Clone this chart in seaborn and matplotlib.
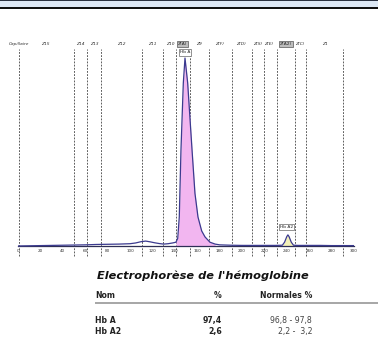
"""
Capillary electrophoresis trace of haemoglobin (Hb A / Hb A2) with result table.
"""
import matplotlib
matplotlib.use('Agg')
import matplotlib.pyplot as plt
import seaborn as sns
from matplotlib.patches import Rectangle

# ---- trace (x = migration position, y = % of peak height)
curve_x = [0, 10, 20, 30, 40, 50, 60, 70, 80, 90, 100, 105, 110, 114, 118, 122,
           126, 130, 134, 138, 141, 142.6, 144, 145.5, 147.6, 149.1, 151.5, 155.4,
           158, 160.7, 164, 167, 171.4, 176, 180, 190, 200, 210, 220, 230, 236,
           238, 240, 241, 242, 244, 246, 250, 260, 270, 280, 290, 300]
curve_y = [0.0, 0.1, 0.2, 0.3, 0.4, 0.5, 0.6, 0.8, 0.9, 1.0, 1.2, 1.6, 2.3, 2.6,
           2.2, 1.7, 1.3, 1.0, 1.2, 1.6, 2.0, 4.0, 15.4, 51.0, 86.7, 100.0, 86.7,
           51.0, 28.0, 15.4, 8.0, 4.8, 2.0, 1.0, 0.6, 0.4, 0.3, 0.3, 0.3, 0.3, 0.4,
           2.0, 5.0, 5.9, 5.0, 2.0, 0.4, 0.3, 0.3, 0.3, 0.2, 0.2, 0.2]

hba_range = (141, 178)
hba2_range = (236, 246)

zone_bounds = [1, 50, 61.6, 73.8, 111, 129.5, 141, 153.6, 170.5, 191, 208.5,
               219.6, 231, 247, 257.5, 290.6]
zone_names = ['Capillaire', 'Z15', 'Z14', 'Z13', 'Z12', 'Z11', 'Z10', 'Z(A)', 'Z9',
              'Z(F)', 'Z(D)', 'Z(S)', 'Z(E)', 'Z(A2)', 'Z(C)', 'Z1']
zone_pos = [1, 24, 55.4, 68, 92.6, 120, 135.7, 147, 162, 180, 198.8, 214, 224,
            239, 252, 274]
boxed_zones = ['Z(A)', 'Z(A2)']

peak_names = ['Hb A', 'Hb A2']
peak_pos = [149, 240]
peak_label_y = [103, 10]

x_ticks = list(range(0, 301, 20))

# ---- result table
title = "Electrophorèse de l'hémoglobine"
col_headers = ['Nom', '%', 'Normales %']
row_names = ['Hb A', 'Hb A2']
row_pct = ['97,4', '2,6']
row_norm = ['96,8 - 97,8', '2,2 -  3,2']

sns.set_style('white')
plt.rcParams['font.family'] = ['DejaVu Sans']

W, H = 378, 364
fig = plt.figure(figsize=(W / 100, H / 100), dpi=100)

# header band at the top of the page
fig.patches.append(Rectangle((0, 1 - 7.5 / H), 1, 7.5 / H, transform=fig.transFigure,
                             facecolor='#dde8f5', edgecolor='none'))
fig.patches.append(Rectangle((0, 1 - 1.2 / H), 1, 1.2 / H, transform=fig.transFigure,
                             facecolor='#2a3140', edgecolor='none'))
fig.patches.append(Rectangle((0, 1 - 9.2 / H), 1, 1.8 / H, transform=fig.transFigure,
                             facecolor='#111111', edgecolor='none'))

ax = fig.add_axes([18 / W, (H - 258) / H, 336 / W, 218 / H])
ax.set_xlim(0, 300)
ax.set_ylim(-6.4, 109.6)

ax.vlines(zone_bounds, -5.3, 104.8, colors='#444444', linestyles=(0, (2.2, 1.6)),
          linewidth=0.6, zorder=1)

ax.fill_between(curve_x, curve_y, 0,
                where=[hba_range[0] <= v <= hba_range[1] for v in curve_x],
                color='#f2b6f0', linewidth=0, zorder=2)
ax.fill_between(curve_x, curve_y, 0,
                where=[hba2_range[0] <= v <= hba2_range[1] for v in curve_x],
                color='#f3f1b8', linewidth=0, zorder=2)
sns.lineplot(x=curve_x, y=curve_y, ax=ax, color='#3b3a8f', linewidth=0.9, zorder=3)

for name, xpos in zip(zone_names, zone_pos):
    if name in boxed_zones:
        ax.text(xpos, 107.6, name, fontsize=3.2, ha='center', va='center', color='#222',
                bbox=dict(boxstyle='square,pad=0.25', facecolor='#bdbdbd',
                          edgecolor='#555555', linewidth=0.5))
    else:
        ax.text(xpos, 107.6, name, fontsize=3.2, ha='center', va='center',
                color='#333333', style='italic')

for name, xpos, ypos in zip(peak_names, peak_pos, peak_label_y):
    ax.text(xpos, ypos, name, fontsize=3.2, ha='center', va='center', color='#222',
            bbox=dict(boxstyle='square,pad=0.25', facecolor='white',
                      edgecolor='#666666', linewidth=0.5), zorder=4)

for side in ['top', 'left', 'right']:
    ax.spines[side].set_visible(False)
ax.spines['bottom'].set_position(('data', 0))
ax.spines['bottom'].set_color('#2e2e55')
ax.spines['bottom'].set_linewidth(0.9)
ax.set_yticks([])
ax.set_xticks(x_ticks)
ax.tick_params(axis='x', direction='inout', length=2.5, width=0.5, labelsize=3,
               pad=1, colors='#333333')
ax.set_xlabel('')
ax.set_ylabel('')
ax.patch.set_alpha(0)


def fy(py):
    return 1 - py / H


fig.text(203 / W, fy(279), title, fontsize=8.2, fontweight='bold', style='italic',
         ha='center', va='baseline', color='#111111')

fig.text(95 / W, fy(297.5), col_headers[0], fontsize=5.6, fontweight='bold',
         ha='left', va='baseline', color='#222222')
fig.text(222 / W, fy(297.5), col_headers[1], fontsize=5.6, fontweight='bold',
         ha='right', va='baseline', color='#222222')
fig.text(312 / W, fy(297.5), col_headers[2], fontsize=5.6, fontweight='bold',
         ha='right', va='baseline', color='#222222')
fig.patches.append(Rectangle((95 / W, fy(303.5)), 1, 1.6 / H, transform=fig.transFigure,
                             facecolor='#a8a8a8', edgecolor='none'))

row_baselines = [322.7, 334]
for name, pct, norm, yb in zip(row_names, row_pct, row_norm, row_baselines):
    fig.text(95 / W, fy(yb), name, fontsize=5.6, fontweight='bold',
             ha='left', va='baseline', color='#222222')
    fig.text(222 / W, fy(yb), pct, fontsize=5.6, fontweight='bold',
             ha='right', va='baseline', color='#222222')
    fig.text(312 / W, fy(yb), norm, fontsize=5.6,
             ha='right', va='baseline', color='#444444')

fig.savefig('out.png', dpi=100)
plt.close(fig)
